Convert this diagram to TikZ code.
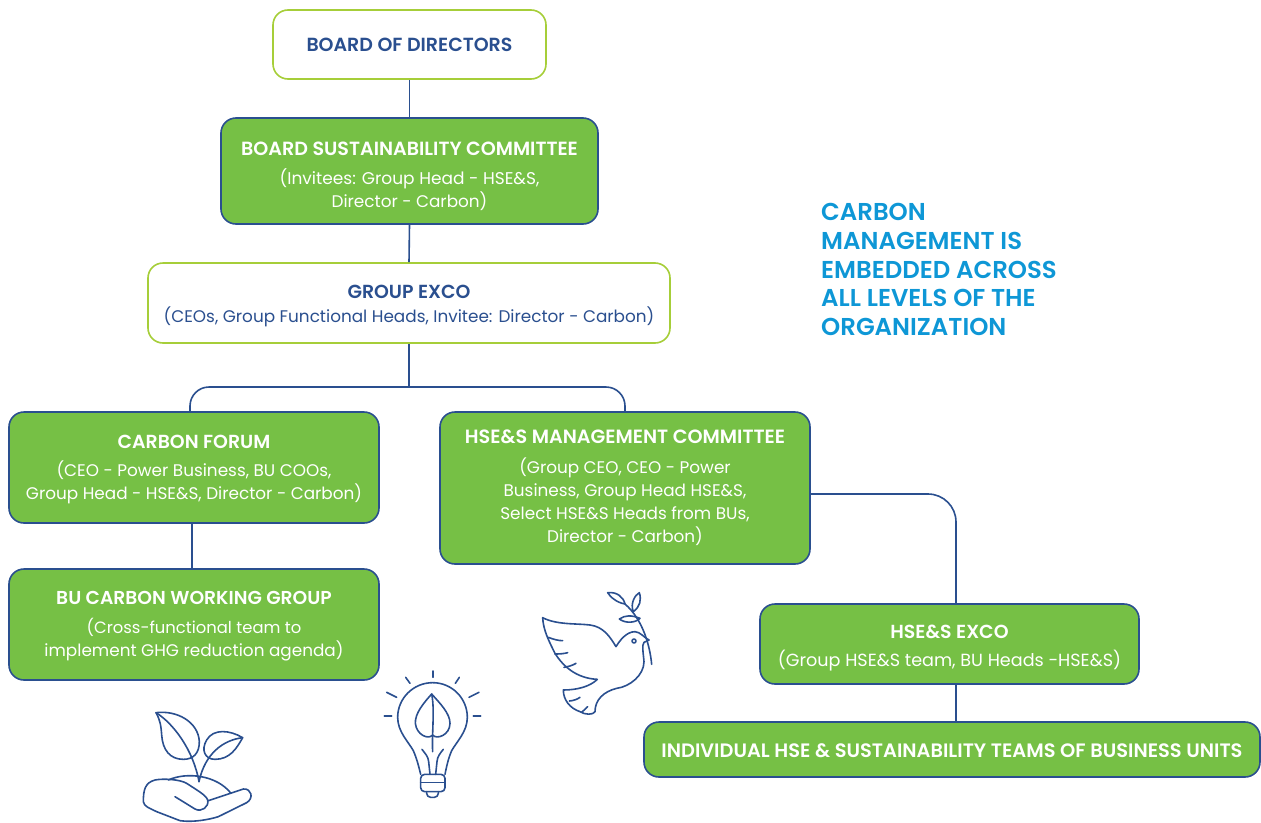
\documentclass[tikz,border=0pt]{standalone}
\usepackage{fontspec}
\setmainfont{Poppins}[BoldFont={Poppins SemiBold}]
\definecolor{navy}{HTML}{2A4F8F}
\definecolor{lime}{HTML}{A6CE39}
\definecolor{leafg}{HTML}{76C045}
\definecolor{skyb}{HTML}{0E97D6}
\tikzset{
  basebox/.style={rectangle,rounded corners=15pt,line width=1.6pt,inner sep=0pt,align=center,font=\fontsize{16.85}{23}\selectfont},
  greenbox/.style={basebox,draw=navy,fill=leafg,text=white},
  whitebox/.style={basebox,draw=lime,fill=white,text=navy},
  link/.style={draw=navy,line width=1.6pt},
  icon/.style={draw=navy,line width=1.6pt,line cap=round,line join=round}
}
\newcommand{\hd}[2][19.1]{{\fontsize{#1}{23}\selectfont\bfseries #2}}
\newcommand{\pad}[1]{\rule{0pt}{#1pt}}
\newcommand{\sz}[1]{\fontsize{#1}{23}\selectfont}
\begin{document}
\begin{tikzpicture}[x=1pt,y=-1pt]
\useasboundingbox (0,0) rectangle (1261,822);
\node[whitebox,minimum width=273pt,minimum height=69pt] (bd) at (409.5,44.5) {\hd[19]{BOARD OF DIRECTORS}};
\node[greenbox,minimum width=377pt,minimum height=106pt] (bsc) at (409.5,171) {\pad{24.4}\hd{BOARD SUSTAINABILITY COMMITTEE}\\[6pt]\sz{17}(Invitees: Group Head - HSE\&S,\\Director - Carbon)};
\node[whitebox,minimum width=522pt,minimum height=80pt] (gx) at (409,303) {\pad{18.4}\hd[18.9]{GROUP EXCO}\\[1pt](CEOs, Group Functional Heads, Invitee: Director - Carbon)};
\node[greenbox,minimum width=370pt,minimum height=111pt] (cf) at (194,467.5) {\pad{16.4}\hd[18.9]{CARBON FORUM}\\[5pt](CEO - Power Business, BU COOs,\\Group Head - HSE\&S, Director - Carbon)};
\node[greenbox,minimum width=370pt,minimum height=152pt] (hm) at (625,488) {\hd[19.2]{HSE\&S MANAGEMENT COMMITTEE}\\[7pt](Group CEO, CEO - Power\\Business, Group Head HSE\&S,\\Select HSE\&S Heads from BUs,\\Director - Carbon)};
\node[greenbox,minimum width=370pt,minimum height=111pt] (bu) at (194,624.5) {\pad{17.4}\hd[18.7]{BU CARBON WORKING GROUP}\\[6pt]\sz{16.4}(Cross-functional team to\\implement GHG reduction agenda)};
\node[greenbox,minimum width=379pt,minimum height=80pt] (hx) at (949.5,644) {\pad{21.4}\hd[18.9]{HSE\&S EXCO}\\[5pt]\sz{17.6}(Group HSE\&S team, BU Heads -HSE\&S)};
\node[greenbox,minimum width=616pt,minimum height=55pt] (it) at (952,749.5) {\pad{15.4}\hd[19.4]{INDIVIDUAL HSE \& SUSTAINABILITY TEAMS OF BUSINESS UNITS}};
\node[anchor=north west,inner sep=0pt,align=left,text=skyb,font=\fontsize{24.4}{28.8}\selectfont\bfseries] (msg) at (821,203) {CARBON\\MANAGEMENT IS\\EMBEDDED ACROSS\\ALL LEVELS OF THE\\ORGANIZATION};
\coordinate (jn) at (409,387);
\coordinate (cfin) at (190,412);
\coordinate (hmin) at (625,412);
\draw[link] (bd.south) -- (bsc.north);
\draw[link] (bsc.south) -- (gx.north);
\draw[link] (gx.south) -- (jn);
\draw[link,rounded corners=19pt] (cfin) |- (jn) -| (hmin);
\draw[link] ([xshift=-2pt]cf.south) -- ([xshift=-2pt]bu.north);
\draw[link,rounded corners=28pt] ([yshift=-6pt]hm.east) -| ([xshift=6.5pt]hx.north);
\draw[link] ([xshift=6.5pt]hx.south) -- ([xshift=4pt]it.north);
% plant and bulb
\begin{scope}[shift={(130,660)},x=0.33333pt,y=-0.33333pt]
\draw[icon] (78,158) .. controls (140,150) and (205,185) .. (208,245) .. controls (208,280) and (190,298) .. (160,298) .. controls (120,298) and (98,270) .. (95,225) .. controls (93,195) and (90,180) .. (78,158);
\draw[icon] (78,158) .. controls (130,190) and (190,270) .. (207,365);
\draw[icon] (338,233) .. controls (300,210) and (250,205) .. (230,240) .. controls (212,270) and (225,298) .. (255,298) .. controls (300,298) and (320,265) .. (338,233);
\draw[icon] (338,233) .. controls (280,240) and (225,280) .. (207,365);
\draw[icon] (115,360) .. controls (170,335) and (260,345) .. (303,400);
\draw[icon] (135,410) -- (195,447) .. controls (215,458) and (238,440) .. (233,420) .. controls (228,405) and (200,390) .. (170,370) .. controls (150,358) and (100,355) .. (75,360) .. controls (45,368) and (40,390) .. (40,425) .. controls (42,440) and (60,445) .. (80,455) -- (150,482) .. controls (190,488) and (240,478) .. (265,470) -- (350,428) .. controls (372,415) and (365,385) .. (340,387) -- (235,422);
\draw[icon] (872,343) .. controls (866,318) and (860,295) .. (850,272) .. controls (835,245) and (803,215) .. (803,172) .. controls (803,115) and (850,68) .. (908,68) .. controls (966,68) and (1012,115) .. (1012,172) .. controls (1012,215) and (980,245) .. (965,272) .. controls (955,295) and (950,318) .. (945,343);
\draw[icon,rounded corners=4pt] (872,343) -- (945,343) -- (945,395) -- (872,395) -- cycle;
\draw[icon] (872,368) -- (945,368);
\draw[icon,rounded corners=4pt] (890,395) -- (890,412) -- (925,412) -- (925,395);
\draw[icon] (876,268) .. controls (885,280) and (895,290) .. (896,305) -- (900,343);
\draw[icon] (940,268) .. controls (930,280) and (922,290) .. (921,305) -- (917,343);
\draw[icon] (905,102) .. controls (880,130) and (855,160) .. (856,190) .. controls (860,225) and (895,240) .. (908,225) .. controls (920,240) and (960,225) .. (960,190) .. controls (960,160) and (930,130) .. (905,102);
\draw[icon] (905,102) .. controls (915,150) and (905,220) .. (908,275);
\draw[icon] (763,168) -- (785,168);
\draw[icon] (770,97) -- (800,112);
\draw[icon] (827,52) -- (840,70);
\draw[icon] (909,33) -- (909,52);
\draw[icon] (988,52) -- (976,70);
\draw[icon] (1047,97) -- (1017,112);
\draw[icon] (1030,168) -- (1052,168);
\end{scope}
% dove
\begin{scope}[shift={(520,580)},x=0.33333pt,y=-0.33333pt]
\draw[icon] (68,113) .. controls (110,135) and (170,130) .. (210,135) .. controls (250,140) and (270,170) .. (288,200) .. controls (300,180) and (320,155) .. (345,155) .. controls (360,155) and (375,175) .. (387,180) -- (372,187) .. controls (365,195) and (370,220) .. (372,245) .. controls (372,285) and (330,320) .. (290,325) .. controls (250,335) and (225,360) .. (225,395) .. controls (220,405) and (195,405) .. (180,395) .. controls (150,385) and (130,360) .. (130,330) .. controls (170,330) and (210,320) .. (232,298) .. controls (170,295) and (130,260) .. (105,220) .. controls (85,180) and (70,150) .. (68,113);
\draw[icon] (85,172) .. controls (100,178) and (115,182) .. (128,182);
\draw[icon] (105,222) .. controls (120,222) and (132,221) .. (143,218);
\draw[icon] (132,262) .. controls (145,260) and (158,256) .. (168,250);
\draw[icon] (148,363) .. controls (160,362) and (172,358) .. (180,352);
\draw[icon] (185,397) -- (203,380);
\draw[icon] (342,183) circle[radius=6];
\draw[icon] (395,253) .. controls (390,200) and (370,120) .. (315,72);
\draw[icon] (315,72) .. controls (290,68) and (270,50) .. (263,38) .. controls (290,35) and (310,50) .. (315,72);
\draw[icon] (340,95) .. controls (330,70) and (345,45) .. (358,38) .. controls (365,60) and (360,80) .. (340,95);
\draw[icon] (360,115) .. controls (335,105) and (315,105) .. (298,117) .. controls (315,130) and (345,130) .. (360,115);
\end{scope}
\end{tikzpicture}
\end{document}
